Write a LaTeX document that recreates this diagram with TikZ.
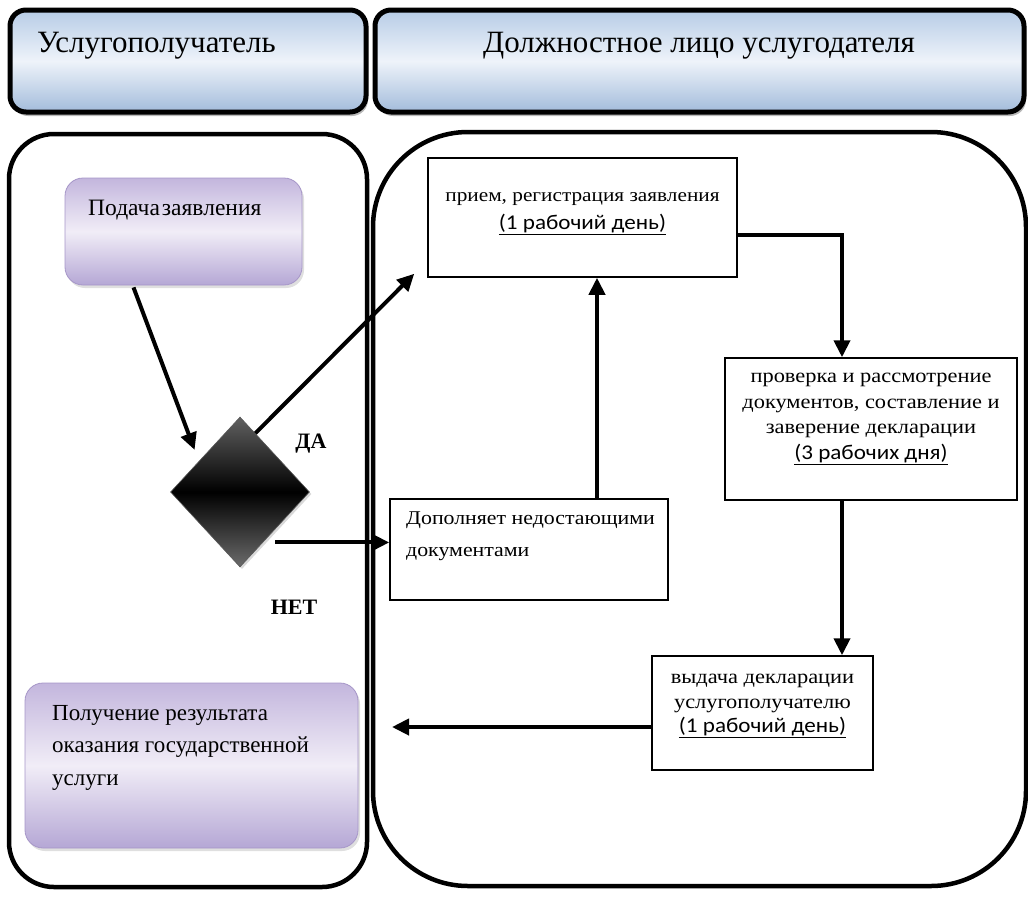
\documentclass[tikz,border=0pt]{standalone}
\usepackage{fontspec}
\setmainfont{Liberation Serif}
\newfontfamily\wideserif[FakeStretch=1.12]{Liberation Serif}
\newfontfamily\dayfont[FakeStretch=1.1]{Carlito}
\usetikzlibrary{arrows.meta,shapes.geometric,shadows,calc}

\definecolor{hdTop}{HTML}{B7CCE6}
\definecolor{hdMid}{HTML}{EEF3FA}
\definecolor{hdBot}{HTML}{A3BCDB}
\definecolor{puTop}{HTML}{C3B6DD}
\definecolor{puMid}{HTML}{F1EDF7}
\definecolor{puBot}{HTML}{B5A7D5}
\definecolor{puEdge}{HTML}{A696C8}

\newcommand{\daytext}[1]{{\dayfont\fontsize{21}{24}\selectfont\underline{#1}}}

\begin{document}
\begin{tikzpicture}[x=1pt,y=-1pt,
  header/.style={draw=black, line width=5pt, rounded corners=16pt,
    top color=hdTop, bottom color=hdBot, middle color=hdMid,
    drop shadow={shadow xshift=2pt, shadow yshift=-4pt, opacity=0.55}},
  lane/.style={draw=black, line width=4.5pt},
  actor/.style={draw=puEdge, line width=0.8pt, rounded corners=18pt,
    top color=puTop, bottom color=puBot, middle color=puMid,
    drop shadow={shadow xshift=2pt, shadow yshift=-3pt, opacity=0.25}},
  stepbox/.style={draw=black, line width=1.5pt, fill=white, inner sep=0pt},
  boxtext/.style={align=center, inner sep=0pt},
  flow/.style={line width=4pt, -{Triangle[length=17pt,width=16pt]}},
  answer/.style={font=\fontsize{22}{26}\selectfont\bfseries, inner sep=0pt}
]
\useasboundingbox (0,0) rectangle (1028,898);

% swimlane headers
\node[header, minimum width=356, minimum height=102] (h1) at (188,61) {};
\node[header, minimum width=649, minimum height=102] (h2) at (699.5,61) {};
\node[anchor=west, inner sep=0pt, font=\fontsize{31}{35}\selectfont] (h1t) at (37,46) {Услугополучатель};
\node[inner sep=0pt, font=\fontsize{31}{35}\selectfont] (h2t) at (699,46) {Должностное лицо услугодателя};

% swimlanes
\node[lane, rounded corners=45pt, minimum width=358, minimum height=753] (lp) at (188,510.5) {};
\node[lane, rounded corners=95pt, minimum width=653, minimum height=754] (rp) at (699.5,509) {};

% applicant steps
\node[actor, minimum width=237, minimum height=107] (sub) at (183.5,231.5) {};
\node[anchor=west, inner sep=0pt, font=\fontsize{23.5}{27}\selectfont] (subt) at (88,210) {Подача\hspace{2pt}заявления};
\node[actor, minimum width=333, minimum height=165] (res) at (191.5,765.5) {};
\node[anchor=north west, align=left, inner sep=0pt, font=\fontsize{23}{32.5}\selectfont] (rest) at (52,705)
  {Получение результата\\оказания государственной\\услуги};

% decision
\node[diamond, minimum width=139, minimum height=150, inner sep=0pt, draw=gray!70!black, line width=0.6pt,
  top color=black!62, bottom color=black!58, middle color=black,
  drop shadow={shadow xshift=2pt, shadow yshift=-2pt, opacity=0.3}] (dec) at (240,492) {};
\node[answer] (yes) at (311,444) {ДА};
\node[answer] (no) at (294,607) {НЕТ};

% official's steps
\node[stepbox, minimum width=309, minimum height=119] (reg) at (582.5,217.5) {};
\node[boxtext, font=\wideserif\fontsize{19}{27}\selectfont] (regt) at (582.5,214)
  {прием, регистрация заявления\\[1pt]\daytext{(1 рабочий день)}};

\node[stepbox, minimum width=292, minimum height=142] (chk) at (871,429) {};
\node[boxtext, font=\wideserif\fontsize{20}{25.5}\selectfont] (chkt) at (871,419)
  {проверка и рассмотрение\\документов, составление и\\заверение декларации\\\daytext{(3 рабочих дня)}};

\node[stepbox, minimum width=278, minimum height=101] (dop) at (529,549.5) {};
\node[anchor=north west, align=left, inner sep=0pt, font=\wideserif\fontsize{19.5}{32}\selectfont] (dopt) at (406,512)
  {Дополняет недостающими\\документами};

\node[stepbox, minimum width=221, minimum height=114] (out) at (762.5,713) {};
\node[boxtext, font=\wideserif\fontsize{20}{24.5}\selectfont] (outt) at (762.5,706)
  {выдача декларации\\услугополучателю\\\daytext{(1 рабочий день)}};

\coordinate (back) at (392,727);

% connectors
\draw[flow] ($(sub.south)+(-50,2)$) -- ($(dec.north west)+(-10.5,-4.5)$);
\draw[flow] ($(dec.north)!0.22!(dec.east)$) -- ($(reg.south west)+(-13,-4)$);
\draw[flow] ($(dec.east)!0.67!(dec.south)+(12,0)$) coordinate (nodep) -- (nodep -| dop.west);
\draw[flow] ($(dop.north)+(68,0)$) coordinate (dopup) -- (dopup |- reg.south);
\draw[flow] ($(reg.east)+(0,17)$) -| ($(chk.north)+(-29,0)$);
\draw[flow] ($(chk.south)+(-29,0)$) coordinate (chkdn) -- (chkdn |- out.north);
\draw[flow] ($(out.west)+(0,14)$) -- (back);
\end{tikzpicture}
\end{document}
